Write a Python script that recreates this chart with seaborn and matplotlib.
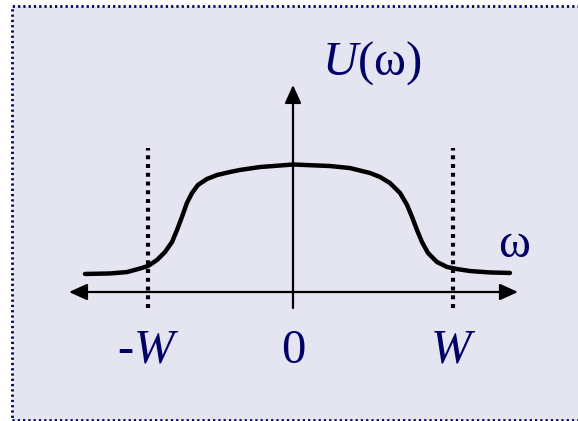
import numpy as np
import pandas as pd
import seaborn as sns
import matplotlib.pyplot as plt
from matplotlib.patches import Rectangle

# curve (omega in units of W-ish, U normalised to peak ~1)
omega = [-1.300, -1.144, -1.038, -0.956, -0.906, -0.850, -0.800, -0.756, -0.725,
         -0.694, -0.663, -0.631, -0.594, -0.538, -0.475, -0.394, -0.331, -0.206,
         0.000, 0.231, 0.356, 0.481, 0.544, 0.606, 0.669, 0.713, 0.744, 0.775,
         0.806, 0.844, 0.900, 0.963, 1.025, 1.106, 1.231, 1.356]
U = [0.142, 0.146, 0.157, 0.185, 0.205, 0.252, 0.315, 0.394, 0.488,
     0.591, 0.701, 0.780, 0.843, 0.890, 0.921, 0.945, 0.961, 0.984,
     1.004, 0.992, 0.976, 0.937, 0.906, 0.858, 0.780, 0.685, 0.591, 0.488,
     0.394, 0.307, 0.236, 0.197, 0.181, 0.165, 0.154, 0.150]

tick_pos = [-0.906, 0.0, 1.0]
tick_labels = ["-$W$", "0", "$W$"]
band_edges = [-0.906, 1.0]

sns.set_theme(style="white")
plt.rcParams["font.family"] = ["Liberation Serif", "DejaVu Serif"]
plt.rcParams["mathtext.fontset"] = "custom"
plt.rcParams["mathtext.it"] = "Liberation Serif:italic"
plt.rcParams["mathtext.rm"] = "Liberation Serif"

navy = "#000066"
fig = plt.figure(figsize=(5.78, 4.21), dpi=100)
fig.patch.set_facecolor("white")

# slide-like panel with dotted border
panel = Rectangle((11.5 / 578, 0.8 / 421), (590 - 11.5) / 578, (415.5 - 0.8) / 421,
                  transform=fig.transFigure, facecolor="#E5E5F1", edgecolor=navy,
                  linewidth=2.0, linestyle=(0, (0.8, 1.1)), zorder=0)
fig.add_artist(panel)

ax = fig.add_axes([0, 0, 1, 1])
ax.set_facecolor("none")
ax.set_xlim(-1.83125, 1.78125)
ax.set_ylim(-1.0157, 2.2992)
ax.axis("off")

df = pd.DataFrame({"omega": omega, "U": U})
sns.lineplot(data=df, x="omega", y="U", ax=ax, color="black", linewidth=3.2,
             sort=False, zorder=3, solid_joinstyle="round")

arrow_kw = dict(mutation_scale=1, lw=1.6, color="black", shrinkA=0, shrinkB=0)
ax.annotate("", xy=(1.406, 0), xytext=(-1.40, 0),
            arrowprops=dict(arrowstyle="<|-|>,head_length=11,head_width=5", **arrow_kw))
ax.annotate("", xy=(0, 1.63), xytext=(0, -0.126),
            arrowprops=dict(arrowstyle="-|>,head_length=11,head_width=5", **arrow_kw))

for e in band_edges:
    ax.plot([e, e], [-0.126, 1.134], color="black", lw=3.0,
            linestyle=(0, (0.95, 1.15)), dash_capstyle="butt", zorder=2)

for p, lab in zip(tick_pos, tick_labels):
    ax.text(p, -0.559, lab, ha="center", va="baseline", fontsize=35, color=navy)

ax.text(0.49, 1.709, "$U$(ω)", ha="center", va="baseline", fontsize=35, color=navy)
ax.text(1.381, 0.276, "ω", ha="center", va="baseline", fontsize=35, color=navy)

fig.savefig("out.png", dpi=100)
